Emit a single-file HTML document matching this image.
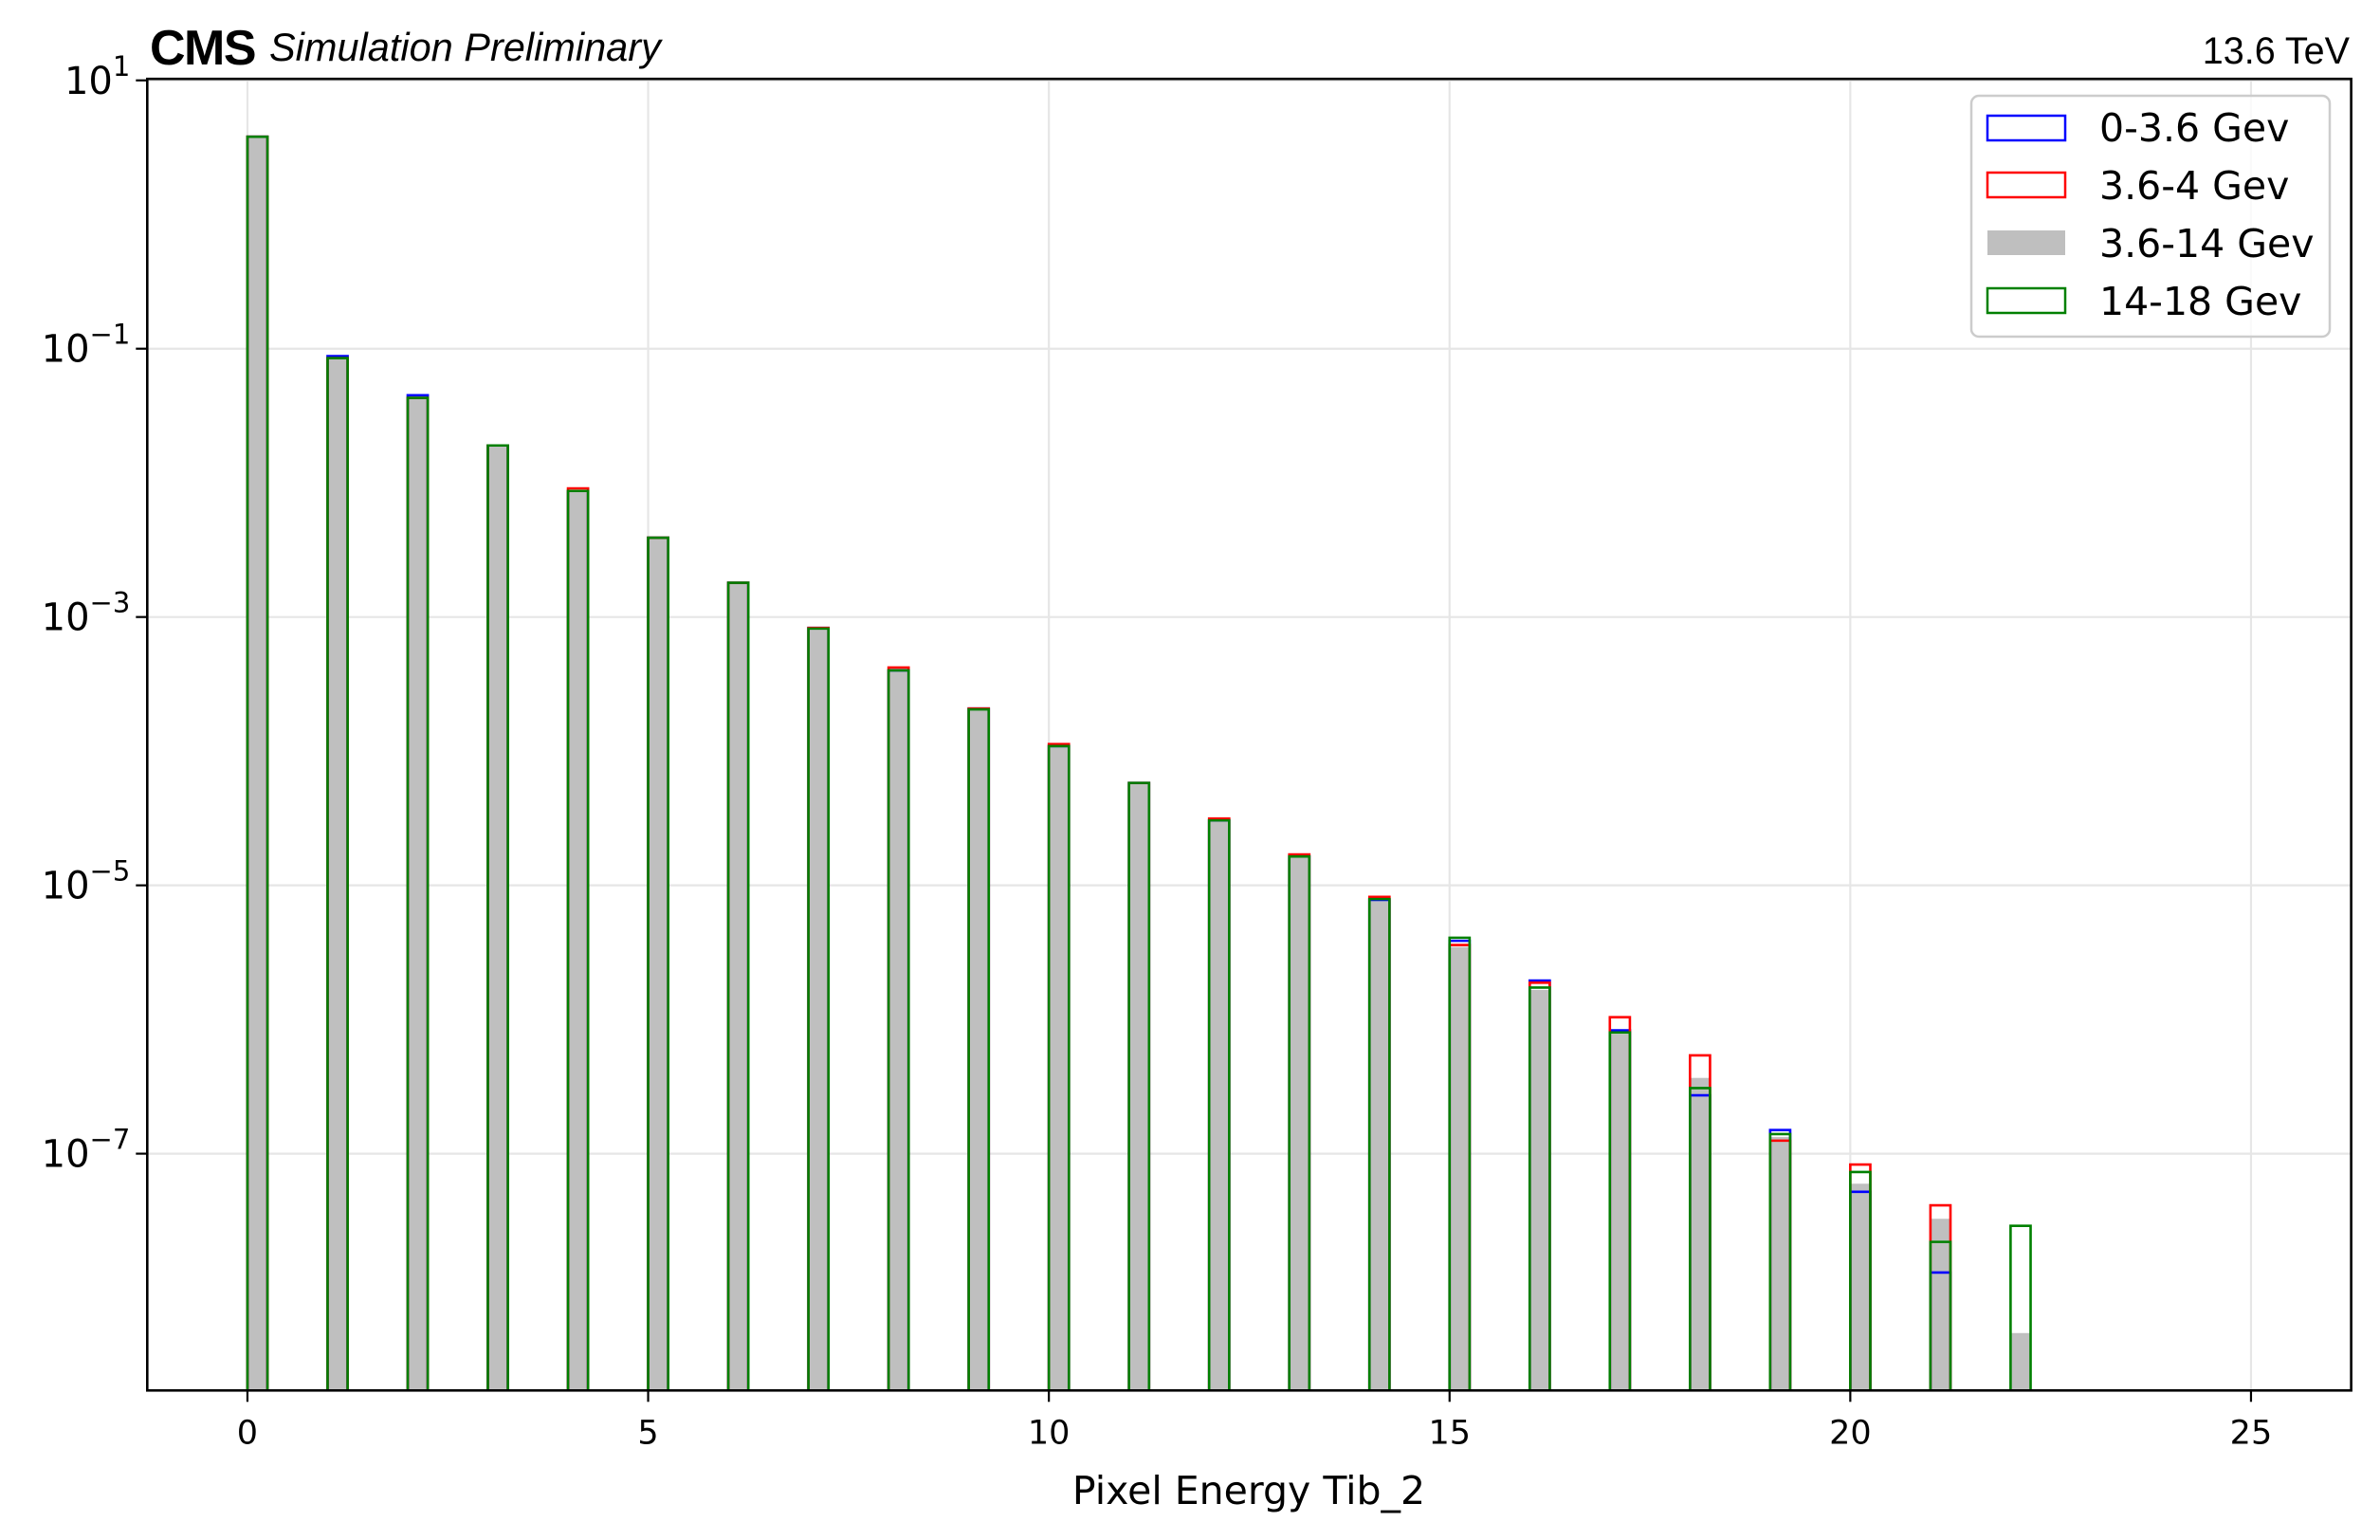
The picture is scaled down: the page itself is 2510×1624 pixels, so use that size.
<!DOCTYPE html>
<html><head><meta charset="utf-8"><style>
html,body{margin:0;padding:0;background:#fff;}
svg{display:block;font-family:"DejaVu Sans","Liberation Sans",sans-serif;}
</style></head><body>
<svg id="chart" width="2510" height="1624" viewBox="0 0 2510 1624" xmlns="http://www.w3.org/2000/svg">
<rect x="0" y="0" width="2510" height="1624" fill="#fff"/>
<g id="grid"></g>
<g id="bars"></g>
<g id="axes"></g>
<text x="158" y="68" font-family="Liberation Sans, sans-serif" font-weight="bold" font-size="52" letter-spacing="-1.5">CMS</text>
<text x="284" y="64" font-family="Liberation Sans, sans-serif" font-style="italic" font-size="41.5">Simulation Preliminary</text>
<text x="2478" y="67" text-anchor="end" font-family="Liberation Sans, sans-serif" font-size="39.5">13.6 TeV</text>
<text x="1317" y="1586" text-anchor="middle" font-size="41">Pixel Energy Tib_2</text>
<g id="legend">
<rect x="2079" y="101" width="378" height="254" rx="8" fill="#fff" fill-opacity="0.8" stroke="#cccccc" stroke-width="2.5"/>
<g><rect x="2096" y="122" width="82" height="26" fill="none" stroke="#0000ff" stroke-width="2.5"/><text x="2214" y="149" font-size="41">0-3.6 Gev</text></g>
<g><rect x="2096" y="182" width="82" height="26" fill="none" stroke="#ff0000" stroke-width="2.5"/><text x="2214" y="210" font-size="41">3.6-4 Gev</text></g>
<g><rect x="2096" y="243" width="82" height="26" fill="#bfbfbf"/><text x="2214" y="271" font-size="41">3.6-14 Gev</text></g>
<g><rect x="2096" y="304" width="82" height="26" fill="none" stroke="#008000" stroke-width="2.5"/><text x="2214" y="332" font-size="41">14-18 Gev</text></g>
</g>
</svg>
<script>
const binStarts = [0,1,2,3,4,5,6,7,8,9,10,11,12,13,14,15,16,17,18,19,20,21,22];
const blueVals  = [3.8,0.088,0.045,0.019,0.0087,0.0039,0.0018,8.3e-4,4.0e-4,2.08e-4,1.09e-4,5.8e-5,3.05e-5,1.64e-5,7.8e-6,3.86e-6,1.95e-6,8.3e-7,2.72e-7,1.5e-7,5.2e-8,1.3e-8,0];
const redVals   = [3.8,0.085,0.043,0.019,0.0091,0.0039,0.0018,8.3e-4,4.2e-4,2.08e-4,1.13e-4,5.8e-5,3.15e-5,1.7e-5,8.2e-6,3.59e-6,1.88e-6,1.04e-6,5.4e-7,1.25e-7,8.3e-8,4.12e-8,0];
const grayVals  = [3.8,0.085,0.043,0.019,0.0088,0.0039,0.0018,8.2e-4,4.0e-4,2.05e-4,1.09e-4,5.8e-5,3.05e-5,1.64e-5,7.8e-6,3.47e-6,1.66e-6,7.8e-7,3.67e-7,1.33e-7,5.97e-8,3.27e-8,4.6e-9];
const greenVals = [3.8,0.085,0.043,0.019,0.0087,0.0039,0.0018,8.2e-4,4.0e-4,2.05e-4,1.09e-4,5.8e-5,3.05e-5,1.64e-5,7.9e-6,4.07e-6,1.73e-6,8.0e-7,3.08e-7,1.4e-7,7.3e-8,2.2e-8,2.9e-8];
const xTicks = [0,5,10,15,20,25];
const yTickExps = [1,-1,-3,-5,-7];
const binWidth = 0.25;

const NS='http://www.w3.org/2000/svg';
const L=155.3,R=2479.6,T=83.2,B=1466.3;
const XMIN=-1.25,XMAX=26.25,LMAX=1.011,LMIN=-8.765;
function xs(v){return L+(v-XMIN)/(XMAX-XMIN)*(R-L);}
function ys(v){return T+(LMAX-Math.log10(v))/(LMAX-LMIN)*(B-T);}
function mk(tag,attrs,parent){const e=document.createElementNS(NS,tag);for(const k in attrs)e.setAttribute(k,attrs[k]);parent.appendChild(e);return e;}
const grid=document.getElementById('grid'),bars=document.getElementById('bars'),axes=document.getElementById('axes');
xTicks.forEach(t=>{const g=mk('line',{x1:xs(t),x2:xs(t),y1:T,y2:B,stroke:'#e6e6e6','stroke-width':2.2},grid);

});
yTickExps.forEach(e=>{const g=mk('line',{x1:L,x2:R,y1:ys(Math.pow(10,e)),y2:ys(Math.pow(10,e)),stroke:'#e6e6e6','stroke-width':2.2},grid);

});
binStarts.forEach((s,i)=>{const v=grayVals[i];if(!(v>0))return;const y=ys(v);
const r=mk('rect',{x:xs(s),y:y,width:xs(s+binWidth)-xs(s),height:B-y,fill:'#bfbfbf'},bars);

});
function steps(vals,color,name){binStarts.forEach((s,i)=>{const v=vals[i];if(!(v>0))return;const y=ys(v),x0=xs(s),x1=xs(s+binWidth);
const p=mk('polyline',{points:`${x0},${B} ${x0},${y} ${x1},${y} ${x1},${B}`,fill:'none',stroke:color,'stroke-width':2.6},bars);

});}
steps(blueVals,'#0000ff','blue');
steps(redVals,'#ff0000','red');
steps(greenVals,'#008000','green');
const fr=mk('rect',{x:L,y:T,width:R-L,height:B-T,fill:'none',stroke:'#000','stroke-width':2.6},axes);


xTicks.forEach(t=>{const x=xs(t);
const tk=mk('line',{x1:x,x2:x,y1:B,y2:B+12,stroke:'#000','stroke-width':2.2},axes);


const tl=mk('text',{x:x,y:B+56,'text-anchor':'middle','font-size':35},axes);tl.textContent=String(t);

});
yTickExps.forEach(e=>{const y=ys(Math.pow(10,e));
const tk=mk('line',{x1:L-12,x2:L,y1:y,y2:y,stroke:'#000','stroke-width':2.2},axes);


const tl=mk('text',{x:L-18,y:y+14,'text-anchor':'end','font-size':40},axes);
const a=mk('tspan',{},tl);a.textContent='10';
const b=mk('tspan',{dy:-19,'font-size':29},tl);b.textContent=(e<0?'\u2212':'')+Math.abs(e);

});
</script>
</body></html>
